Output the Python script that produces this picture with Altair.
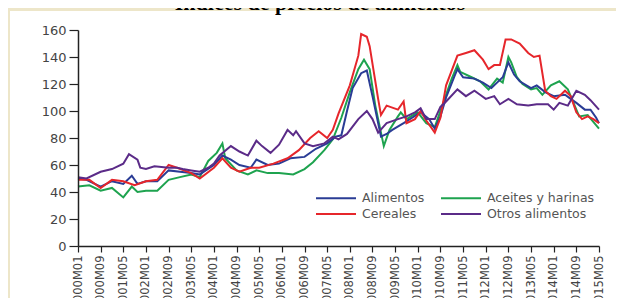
import altair as alt
import pandas as pd

TITLE = "Índices de precios de alimentos"

SERIES = ["Alimentos", "Cereales", "Aceites y harinas", "Otros alimentos"]
COLORS = ["#2a3c95", "#e6262b", "#1ea34f", "#5b2b88"]

TICK_LABELS = ["2000M01", "2000M09", "2001M05", "2002M01", "2002M09", "2003M05",
               "2004M01", "2004M09", "2005M05", "2006M01", "2006M09", "2007M05",
               "2008M01", "2008M09", "2009M05", "2010M01", "2010M09", "2011M05",
               "2012M01", "2012M09", "2013M05", "2014M01", "2014M09", "2015M05"]

# month index 0 = 2000M01
alim_m = [0, 3, 8, 12, 16, 19, 21, 24, 28, 32, 36, 40, 43, 48, 51, 54, 57, 61, 63, 67,
          71, 75, 80, 84, 88, 91, 93, 95, 97, 100, 102, 104, 107, 109, 111, 115, 118, 121, 124, 126,
          128, 130, 133, 134, 136, 140, 143, 146, 148, 150, 152, 154, 156, 160, 162, 165, 168, 172, 174, 176,
          179, 181, 183, 184]
alim_v = [50, 49, 44, 48, 46, 52, 46, 48, 48, 56, 55, 54, 53, 60, 67, 64, 60, 58, 64, 60,
          61, 65, 66, 72, 76, 81, 82, 100, 117, 128, 130, 111, 81, 83, 86, 91, 95, 99, 94, 87,
          96, 110, 126, 131, 125, 124, 121, 117, 121, 125, 136, 127, 122, 117, 119, 114, 111, 112, 109, 106,
          101, 101, 95, 91]

cer_m = [0, 4, 8, 12, 16, 20, 24, 28, 32, 35, 40, 43, 48, 51, 54, 57, 61, 64, 69, 74,
         78, 82, 85, 88, 90, 92, 96, 99, 100, 102, 103, 106, 107, 109, 113, 115, 116, 119, 121, 123,
         126, 128, 130, 134, 137, 140, 143, 145, 147, 149, 151, 153, 156, 159, 161, 163, 165, 167, 169, 172,
         174, 176, 178, 180, 182, 184]
cer_v = [49, 49, 43, 49, 48, 45, 48, 49, 60, 58, 54, 50, 58, 65, 58, 55, 58, 58, 61, 65,
         71, 80, 85, 80, 86, 98, 119, 141, 157, 155, 148, 109, 97, 104, 101, 107, 91, 94, 100, 93,
         84, 95, 119, 141, 143, 145, 138, 131, 134, 134, 153, 153, 150, 143, 140, 141, 115, 111, 109, 115,
         111, 99, 94, 96, 94, 91]

ace_m = [0, 4, 8, 12, 16, 19, 21, 24, 28, 32, 36, 40, 43, 46, 49, 51, 52, 56, 60, 63,
         67, 71, 76, 80, 83, 87, 90, 93, 96, 99, 101, 103, 105, 108, 110, 113, 114, 116, 120, 123,
         126, 129, 132, 134, 135, 139, 142, 145, 148, 150, 152, 153, 155, 157, 160, 162, 164, 167, 170, 173,
         175, 177, 180, 182, 184]
ace_v = [44, 45, 41, 43, 36, 44, 40, 41, 41, 49, 51, 53, 51, 63, 69, 76, 65, 56, 53, 56,
         54, 54, 53, 57, 62, 71, 79, 95, 114, 131, 138, 131, 104, 74, 86, 96, 99, 94, 99, 91,
         88, 106, 124, 134, 129, 125, 122, 116, 124, 121, 140, 136, 125, 120, 116, 117, 112, 119, 122, 116,
         106, 96, 97, 92, 87]

otr_m = [0, 3, 8, 12, 16, 18, 21, 22, 24, 27, 32, 35, 37, 40, 43, 46, 48, 50, 54, 57,
         60, 63, 65, 68, 71, 74, 76, 77, 80, 83, 87, 90, 92, 95, 99, 102, 104, 106, 109, 113,
         116, 119, 121, 123, 126, 128, 130, 134, 137, 140, 142, 144, 147, 149, 152, 155, 159, 162, 166, 168,
         170, 173, 176, 179, 181, 184]
otr_v = [51, 50, 55, 57, 61, 68, 64, 58, 57, 59, 58, 58, 57, 56, 55, 58, 61, 67, 74, 70,
         67, 78, 74, 69, 75, 86, 82, 85, 76, 74, 76, 81, 79, 83, 94, 100, 94, 84, 91, 94,
         96, 99, 102, 94, 94, 103, 107, 116, 111, 115, 112, 109, 111, 105, 109, 105, 104, 105, 105, 101,
         106, 104, 115, 112, 108, 101]

rows = []
for name, ms, vs in [("Aceites y harinas", ace_m, ace_v), ("Alimentos", alim_m, alim_v),
                     ("Cereales", cer_m, cer_v), ("Otros alimentos", otr_m, otr_v)]:
    assert len(ms) == len(vs), name
    for m, v in zip(ms, vs):
        rows.append({"serie": name, "mes": m, "indice": v})
df = pd.DataFrame(rows)

label_expr = "[" + ",".join("'%s'" % t for t in TICK_LABELS) + "][round(datum.value/8)]"

panel = alt.Chart(pd.DataFrame({"a": [0]})).mark_rect(color="white").encode(
    x=alt.value(-68), x2=alt.value(560), y=alt.value(-19), y2=alt.value(320)
)

title = alt.Chart(pd.DataFrame({"t": [TITLE]})).mark_text(
    font="Liberation Serif", fontWeight="bold", fontSize=22, color="black",
    align="center", baseline="alphabetic"
).encode(text="t:N", x=alt.value(242), y=alt.value(-20))

lines = alt.Chart(df).mark_line(strokeWidth=2).encode(
    x=alt.X("mes:Q", scale=alt.Scale(domain=[0, 184], nice=False, zero=False),
            axis=alt.Axis(title=None, values=list(range(0, 185, 8)), labelExpr=label_expr,
                          labelAngle=270, labelFont="DejaVu Sans", labelFontSize=11.5,
                          labelColor="#444", tickColor="#222", domainColor="#222",
                          tickSize=6, domainWidth=1.5, tickWidth=1.2, labelPadding=3,
                          grid=False, zindex=1)),
    y=alt.Y("indice:Q", scale=alt.Scale(domain=[0, 160], nice=False),
            axis=alt.Axis(title=None, values=list(range(0, 161, 20)), labelFont="DejaVu Sans",
                          labelFontSize=13, labelColor="#444", tickColor="#222",
                          domainColor="#222", tickSize=9, domainWidth=1.5, tickWidth=1.2,
                          labelPadding=3, grid=False, zindex=1)),
    color=alt.Color("serie:N", scale=alt.Scale(domain=SERIES, range=COLORS),
                    legend=alt.Legend(title=None, orient="none", legendX=249, legendY=159,
                                      columns=2, symbolType="M-2.5,0H2.5", symbolSize=256,
                                      symbolStrokeWidth=2, labelFont="DejaVu Sans",
                                      labelFontSize=12.5, labelColor="#555", labelOffset=17,
                                      columnPadding=12, rowPadding=0, padding=0)),
)

chart = alt.layer(panel, title, lines).properties(
    width=521, height=216,
    autosize=alt.AutoSizeParams(type="none"),
    padding={"left": 70, "top": 22, "right": 17, "bottom": 52},
    background="#ede6c9",
).configure_view(stroke=None)

chart.save("out.html", embed_options={"renderer": "svg", "actions": False})
